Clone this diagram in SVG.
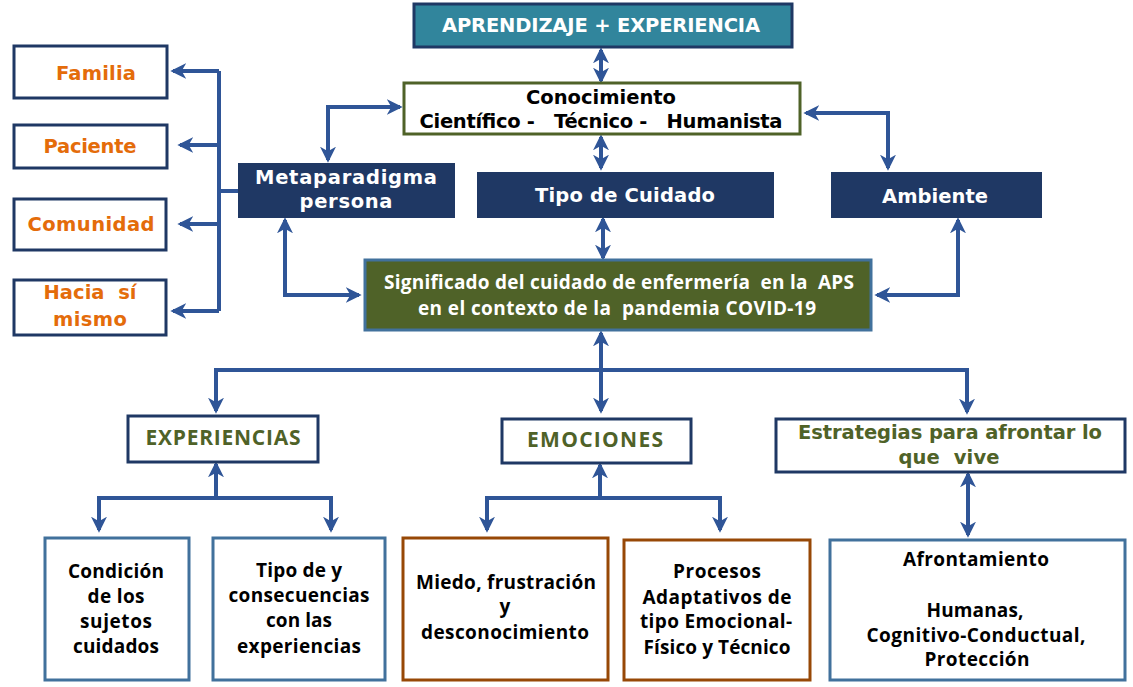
<svg xmlns="http://www.w3.org/2000/svg" width="1133" height="687" viewBox="0 0 1133 687">
<style>
.go{font-family:"DejaVu Sans","Liberation Sans",sans-serif;font-weight:bold;text-anchor:middle;font-size:19.5px}
.ca{font-family:"Open Sans",Lato,"Liberation Sans",sans-serif;font-weight:bold;text-anchor:middle;font-size:19px}
.cp{font-size:21px}
.w{fill:#ffffff}
.or{fill:#e46c0a}
.ol{fill:#4f6228}
.bk{fill:#000000}
.conn path{fill:none;stroke:#2f5597;stroke-width:4;stroke-linejoin:miter}
.nav{fill:#1f3864;stroke:#1f3864;stroke-width:2}
.wb{fill:#ffffff;stroke:#1f3864;stroke-width:3}
.sb{fill:#ffffff;stroke:#41719c;stroke-width:3}
.bb{fill:#ffffff;stroke:#974806;stroke-width:3}
</style>
<defs>
<marker id="ah" viewBox="0 0 12 12" refX="10" refY="6" markerWidth="16" markerHeight="16" markerUnits="userSpaceOnUse" orient="auto-start-reverse">
<path d="M0,0 L12,6 L0,12 L3.5,6 z" fill="#2f5597"/>
</marker>
</defs>
<rect width="1133" height="687" fill="#ffffff"/>

<g class="conn">
<path d="M601,50 V81" marker-start="url(#ah)" marker-end="url(#ah)"/>
<path d="M601,137 V168" marker-start="url(#ah)" marker-end="url(#ah)"/>
<path d="M603,219 V258" marker-start="url(#ah)" marker-end="url(#ah)"/>
<path d="M400,107 H328 V160" marker-start="url(#ah)" marker-end="url(#ah)"/>
<path d="M806,113 H888 V168" marker-start="url(#ah)" marker-end="url(#ah)"/>
<path d="M285,220 V295 H359" marker-start="url(#ah)" marker-end="url(#ah)"/>
<path d="M958,220 V295 H877" marker-start="url(#ah)" marker-end="url(#ah)"/>
<path d="M239,191 H219"/>
<path d="M219,71 V311"/>
<path d="M219,71 H173" marker-end="url(#ah)"/>
<path d="M219,145 H180" marker-end="url(#ah)"/>
<path d="M219,224 H180" marker-end="url(#ah)"/>
<path d="M219,311 H173" marker-end="url(#ah)"/>
<path d="M601,333 V411" marker-start="url(#ah)" marker-end="url(#ah)"/>
<path d="M216,411 V370 H967 V412" marker-start="url(#ah)" marker-end="url(#ah)"/>
<path d="M216,498 V464" marker-end="url(#ah)"/>
<path d="M99,530 V498 H331 V530" marker-start="url(#ah)" marker-end="url(#ah)"/>
<path d="M600,498 V465" marker-end="url(#ah)"/>
<path d="M487,530 V498 H720 V530" marker-start="url(#ah)" marker-end="url(#ah)"/>
<path d="M968,474 V535" marker-start="url(#ah)" marker-end="url(#ah)"/>
</g>

<g id="aprendizaje">
<rect x="414" y="4" width="378" height="43" fill="#31859c" stroke="#1f3864" stroke-width="3"/>
<text class="go w" x="601" y="32" textLength="318">APRENDIZAJE + EXPERIENCIA</text>
</g>
<g id="conocimiento">
<rect x="404" y="83" width="396" height="51" fill="#ffffff" stroke="#4f6228" stroke-width="3"/>
<text class="go bk" x="601" y="104" textLength="150">Conocimiento</text>
<text class="go bk" x="601" y="128" textLength="363" xml:space="preserve">Científico -   Técnico -   Humanista</text>
</g>
<g id="metaparadigma">
<rect class="nav" x="239" y="164" width="215" height="53"/>
<text class="go w" x="346" y="184" textLength="182">Metaparadigma</text>
<text class="go w" x="346" y="208" textLength="93">persona</text>
</g>
<g id="tipo-cuidado">
<rect class="nav" x="478" y="173" width="295" height="44"/>
<text class="go w" x="625" y="202" textLength="180">Tipo de Cuidado</text>
</g>
<g id="ambiente">
<rect class="nav" x="832" y="173" width="209" height="44"/>
<text class="go w" x="935" y="203" textLength="106">Ambiente</text>
</g>
<g id="significado">
<rect x="365" y="260" width="506" height="70" fill="#4f6228" stroke="#41719c" stroke-width="3"/>
<text class="ca w" x="619" y="289" textLength="470" xml:space="preserve">Significado del cuidado de enfermería  en la  APS</text>
<text class="ca w" x="617" y="315" textLength="398" xml:space="preserve">en el contexto de la  pandemia COVID-19</text>
</g>
<g id="familia">
<rect class="wb" x="14" y="46" width="153" height="52"/>
<text class="go or" x="96" y="80" textLength="80">Familia</text>
</g>
<g id="paciente">
<rect class="wb" x="14" y="125" width="153" height="43"/>
<text class="go or" x="90" y="153" textLength="93">Paciente</text>
</g>
<g id="comunidad">
<rect class="wb" x="14" y="199" width="152" height="51"/>
<text class="go or" x="91" y="231" textLength="127">Comunidad</text>
</g>
<g id="hacia">
<rect class="wb" x="14" y="280" width="152" height="55"/>
<text class="go or" x="90" y="299" textLength="93" xml:space="preserve">Hacia  sí</text>
<text class="go or" x="90" y="326" textLength="74">mismo</text>
</g>
<g id="experiencias">
<rect class="wb" x="128" y="416" width="190" height="46"/>
<text class="ca cp ol" x="223" y="445" textLength="155">EXPERIENCIAS</text>
</g>
<g id="emociones">
<rect class="wb" x="502" y="419" width="189" height="44"/>
<text class="ca cp ol" x="595" y="447" textLength="136">EMOCIONES</text>
</g>
<g id="estrategias">
<rect class="wb" x="776" y="419" width="349" height="53"/>
<text class="go ol" x="950" y="439" font-size="18" textLength="304">Estrategias para afrontar lo</text>
<text class="go ol" x="949" y="464" font-size="18" textLength="101" xml:space="preserve">que  vive</text>
</g>
<g id="condicion">
<rect class="sb" x="45" y="538" width="144" height="142"/>
<text class="ca bk" x="116" y="578" textLength="96">Condición</text>
<text class="ca bk" x="116" y="603" textLength="57">de los</text>
<text class="ca bk" x="116" y="628" textLength="72">sujetos</text>
<text class="ca bk" x="116" y="653" textLength="86">cuidados</text>
</g>
<g id="tipo-consecuencias">
<rect class="sb" x="213" y="538" width="172" height="142"/>
<text class="ca bk" x="299" y="577" textLength="86">Tipo de y</text>
<text class="ca bk" x="299" y="602" textLength="141">consecuencias</text>
<text class="ca bk" x="299" y="627" textLength="66">con las</text>
<text class="ca bk" x="299" y="653" textLength="124">experiencias</text>
</g>
<g id="miedo">
<rect class="bb" x="403" y="538" width="205" height="142"/>
<text class="ca bk" x="506" y="589" textLength="180">Miedo, frustración</text>
<text class="ca bk" x="505" y="613">y</text>
<text class="ca bk" x="505" y="639" textLength="168">desconocimiento</text>
</g>
<g id="procesos">
<rect class="bb" x="624" y="540" width="186" height="140"/>
<text class="ca bk" x="717" y="578" textLength="88">Procesos</text>
<text class="ca bk" x="717" y="604" textLength="149">Adaptativos de</text>
<text class="ca bk" x="716" y="628" textLength="152">tipo Emocional-</text>
<text class="ca bk" x="717" y="654" textLength="147">Físico y Técnico</text>
</g>
<g id="afrontamiento">
<rect class="sb" x="830" y="540" width="295" height="140"/>
<text class="ca bk" x="976" y="566" textLength="146">Afrontamiento</text>
<text class="ca bk" x="975" y="617" textLength="97">Humanas,</text>
<text class="ca bk" x="976" y="642" textLength="219">Cognitivo-Conductual,</text>
<text class="ca bk" x="977" y="666" textLength="105">Protección</text>
</g>
</svg>
